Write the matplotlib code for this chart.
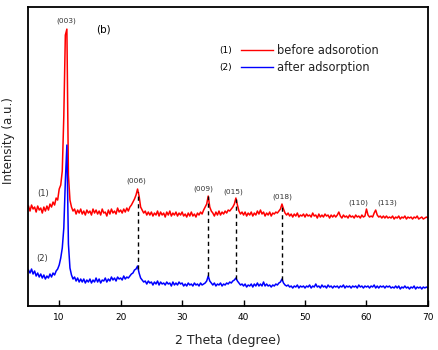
import numpy as np
import matplotlib
matplotlib.use("Agg")
import matplotlib.pyplot as plt

plt.rcParams['font.family'] = ['DejaVu Sans']

# 2 theta grid, 0.25 degree steps from 5 to 70
two_theta = np.arange(5.0, 70.001, 0.25)

# (1) before adsorption (arbitrary units)
before = [
    100, 95, 101, 97, 99, 94, 100, 96, 98, 93, 99, 95, 100, 96, 102, 99, 104, 101, 108, 106,
    117, 121, 135, 190, 271, 277, 131, 106, 99, 95, 97, 92, 96, 93, 97, 92, 95, 91, 96, 93,
    95, 91, 97, 93, 96, 92, 95, 91, 97, 93, 94, 90, 96, 92, 97, 93, 95, 92, 98, 94,
    96, 93, 97, 94, 98, 95, 99, 101, 104, 107, 111, 117, 110, 99, 96, 93, 95, 91, 94, 91,
    94, 90, 93, 91, 95, 90, 94, 91, 93, 89, 94, 91, 95, 90, 93, 91, 94, 90, 93, 91,
    94, 90, 92, 89, 93, 90, 94, 90, 92, 89, 93, 91, 94, 92, 96, 99, 102, 110, 99, 95,
    93, 90, 94, 91, 95, 91, 94, 92, 95, 93, 96, 95, 97, 99, 102, 108, 101, 95, 92, 94,
    91, 94, 90, 93, 91, 94, 90, 93, 91, 95, 92, 96, 92, 94, 90, 93, 91, 94, 90, 93,
    92, 94, 93, 95, 97, 102, 97, 93, 91, 93, 90, 92, 89, 92, 90, 93, 89, 91, 90, 92,
    89, 92, 90, 91, 89, 93, 90, 91, 88, 92, 89, 91, 89, 92, 90, 91, 88, 91, 89, 91,
    89, 91, 94, 90, 88, 91, 89, 90, 88, 91, 89, 90, 88, 91, 89, 90, 88, 91, 89, 90,
    97, 91, 89, 90, 89, 93, 96, 91, 89, 90, 88, 90, 88, 90, 88, 89, 88, 90, 87, 89,
    88, 90, 87, 89, 88, 90, 87, 89, 88, 89, 87, 89, 88, 90, 87, 88, 89, 87, 88, 89,
    88,
]

# (2) after adsorption
after = [
    36, 33, 37, 32, 35, 30, 33, 29, 32, 28, 31, 27, 30, 28, 32, 29, 33, 31, 35, 37,
    41, 48, 58, 78, 125, 161, 62, 38, 31, 27, 29, 25, 28, 24, 27, 24, 27, 23, 26, 24,
    27, 23, 26, 24, 28, 24, 27, 23, 26, 25, 28, 24, 27, 25, 29, 26, 28, 25, 29, 27,
    28, 26, 30, 27, 29, 28, 30, 32, 33, 36, 37, 40, 33, 28, 26, 24, 25, 22, 25, 23,
    24, 21, 24, 22, 25, 21, 24, 22, 23, 21, 24, 22, 23, 20, 24, 21, 23, 21, 24, 22,
    23, 20, 22, 20, 23, 21, 22, 20, 23, 21, 22, 20, 23, 21, 22, 23, 25, 30, 25, 23,
    21, 23, 20, 22, 21, 23, 20, 22, 21, 23, 22, 24, 23, 25, 26, 28, 25, 23, 21, 22,
    20, 22, 19, 21, 20, 22, 19, 22, 20, 23, 20, 22, 20, 24, 20, 22, 20, 21, 19, 21,
    20, 22, 21, 23, 24, 27, 23, 21, 20, 21, 19, 20, 18, 20, 19, 21, 18, 20, 19, 20,
    18, 20, 19, 21, 18, 20, 19, 22, 19, 20, 18, 21, 19, 20, 18, 21, 19, 20, 18, 20,
    19, 20, 18, 20, 19, 21, 18, 20, 19, 20, 18, 20, 19, 20, 18, 21, 19, 20, 18, 20,
    19, 20, 18, 20, 19, 21, 18, 20, 18, 20, 19, 20, 18, 20, 19, 20, 18, 19, 18, 20,
    18, 20, 17, 19, 18, 20, 18, 19, 17, 19, 18, 20, 17, 19, 18, 19, 17, 19, 18, 19,
    18,
]

# reflections marked with dashed lines
dashed_peaks = [22.85, 34.25, 38.8, 46.3]

# hkl labels
hkl = ['(003)', '(006)', '(009)', '(015)', '(018)', '(110)', '(113)']
hkl_x = [11.1, 22.5, 33.4, 38.3, 46.3, 58.75, 63.4]
hkl_y = [285, 125, 117, 114, 109, 103, 103]

fig = plt.figure(figsize=(4.38, 3.5), dpi=100)
ax = fig.add_axes([0.065, 0.1257, 0.912, 0.854])

ax.plot(two_theta, before, color='#ff0000', lw=1.1)
ax.plot(two_theta, after, color='#0000ff', lw=1.1)

for p in dashed_peaks:
    top = np.interp(p, two_theta, before)
    bot = np.interp(p, two_theta, after)
    ax.plot([p, p], [bot, top], color='black', lw=1.0, ls=(0, (3, 2.5)))

for lab, x, y in zip(hkl, hkl_x, hkl_y):
    ax.text(x, y, lab, fontsize=5.3, color='#333333', ha='center', va='center')

ax.text(17.2, 277, '(b)', fontsize=7.5, ha='center', va='center')
ax.text(7.4, 113, '(1)', fontsize=6, color='#333333', ha='center', va='center')
ax.text(7.15, 48, '(2)', fontsize=6, color='#333333', ha='center', va='center')

# legend drawn by hand
ax.text(0.494, 0.856, '(1)', transform=ax.transAxes, fontsize=6.5, ha='center', va='center')
ax.plot([0.531, 0.611], [0.856, 0.856], transform=ax.transAxes, color='#ff0000', lw=1.0)
ax.text(0.622, 0.856, 'before adsorotion', transform=ax.transAxes, fontsize=8.3,
        color='#222222', va='center')
ax.text(0.494, 0.799, '(2)', transform=ax.transAxes, fontsize=6.5, ha='center', va='center')
ax.plot([0.531, 0.611], [0.799, 0.799], transform=ax.transAxes, color='#0000ff', lw=1.0)
ax.text(0.622, 0.799, 'after adsorption', transform=ax.transAxes, fontsize=8.3,
        color='#222222', va='center')

ax.set_xlim(5, 70)
ax.set_ylim(0, 299)
ax.set_xticks([10, 20, 30, 40, 50, 60, 70])
ax.set_yticks([])
ax.tick_params(axis='x', direction='in', length=4, width=1.0, labelsize=6.5, pad=5)
for s in ax.spines.values():
    s.set_linewidth(1.3)

ax.set_xlabel('2 Theta (degree)', fontsize=9, color='#222222')
ax.set_ylabel('Intensity (a.u.)', fontsize=8.5, color='#222222')
ax.xaxis.set_label_coords(0.498, -0.093)
ax.yaxis.set_label_coords(-0.034, 0.555)

fig.savefig('out.png', dpi=100)
